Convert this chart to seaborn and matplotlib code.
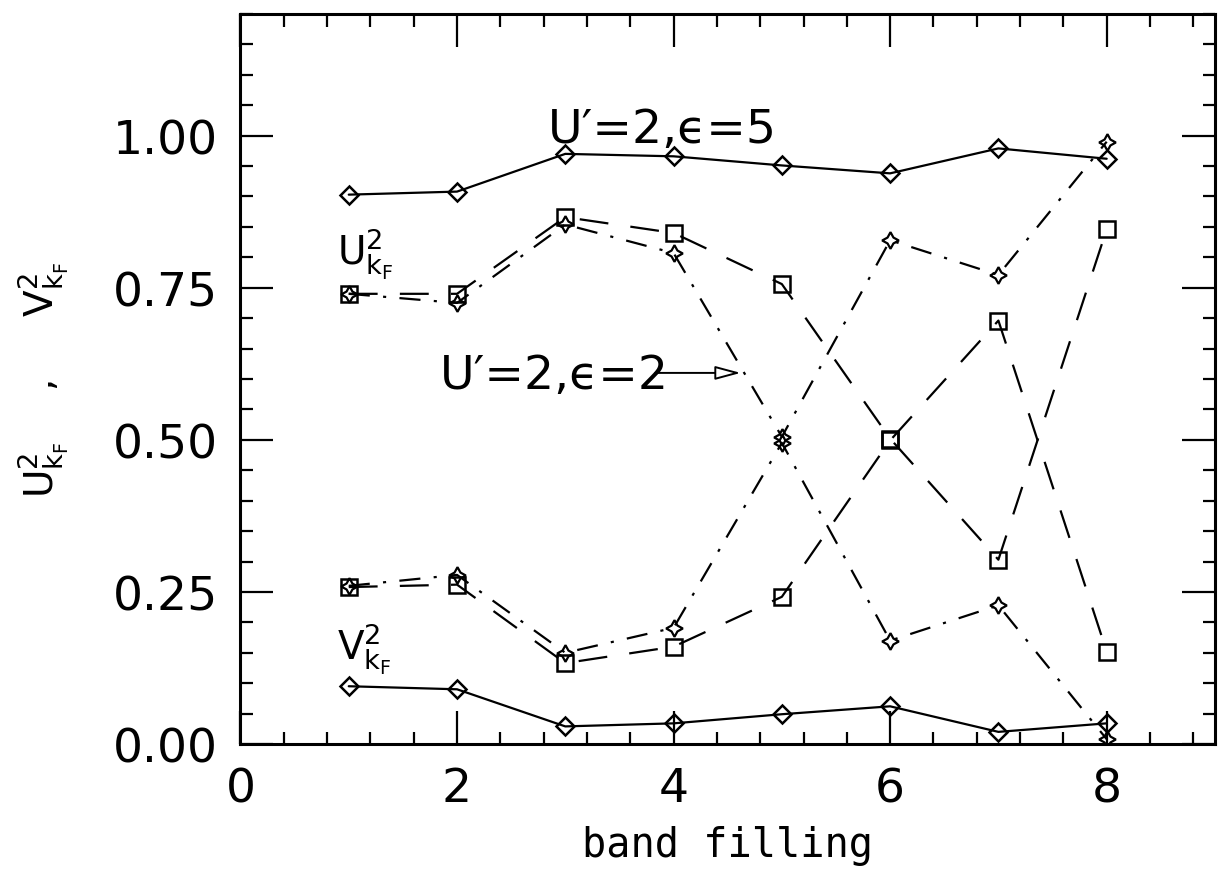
import matplotlib
matplotlib.use("Agg")
import matplotlib.pyplot as plt
import seaborn as sns
from matplotlib.ticker import MultipleLocator

sns.set_theme(style="ticks")
plt.rcParams['font.family'] = ['DejaVu Sans']
plt.rcParams['mathtext.fontset'] = 'dejavusans'
plt.rcParams['text.color'] = 'black'
plt.rcParams['axes.labelcolor'] = 'black'

# band filling on the x axis
filling = [1, 2, 3, 4, 5, 6, 7, 8]

# U'=2, eps=5 (solid, diamonds)
u2_eps5 = [0.903, 0.908, 0.970, 0.966, 0.951, 0.938, 0.979, 0.962]
v2_eps5 = [0.095, 0.090, 0.029, 0.034, 0.049, 0.062, 0.020, 0.034]

# U'=2, eps=2 (dashed, squares)
u2_eps2_sq = [0.740, 0.740, 0.866, 0.840, 0.756, 0.502, 0.303, 0.846]
v2_eps2_sq = [0.258, 0.262, 0.133, 0.160, 0.242, 0.499, 0.696, 0.152]

# U'=2, eps=2 (dash-dot, stars)
u2_eps2_st = [0.740, 0.725, 0.854, 0.807, 0.505, 0.828, 0.771, 0.990]
v2_eps2_st = [0.260, 0.278, 0.150, 0.191, 0.495, 0.170, 0.228, 0.008]

xticks = [0, 2, 4, 6, 8]
yticks = [0.0, 0.25, 0.5, 0.75, 1.0]
ytick_labels = ["0.00", "0.25", "0.50", "0.75", "1.00"]

fig = plt.figure(figsize=(12.25, 8.79), dpi=100)
ax = fig.add_axes([0.1963, 0.1524, 0.7955, 0.8306])

lw = 1.6
solid = dict(color="black", linewidth=lw, marker="D", markersize=9,
             markerfacecolor="none", markeredgecolor="black", markeredgewidth=1.8)
dashed = dict(color="black", linewidth=lw, linestyle=(0, (13, 10)), marker="s",
              markersize=12, markerfacecolor="none", markeredgecolor="black",
              markeredgewidth=1.8)
dashdot = dict(color="black", linewidth=lw, linestyle=(0, (9.5, 6, 1.4, 6)),
               marker=(4, 1, 0), markersize=12, markerfacecolor="none",
               markeredgecolor="black", markeredgewidth=1.6)

sns.lineplot(x=filling, y=u2_eps5, ax=ax, **solid)
sns.lineplot(x=filling, y=v2_eps5, ax=ax, **solid)
sns.lineplot(x=filling, y=u2_eps2_sq, ax=ax, **dashed)
sns.lineplot(x=filling, y=v2_eps2_sq, ax=ax, **dashed)
sns.lineplot(x=filling, y=u2_eps2_st, ax=ax, **dashdot)
sns.lineplot(x=filling, y=v2_eps2_st, ax=ax, **dashdot)

ax.set_xlim(0, 9)
ax.set_ylim(0, 1.2)
ax.set_xticks(xticks)
ax.set_yticks(yticks)
ax.set_yticklabels(ytick_labels)
ax.xaxis.set_minor_locator(MultipleLocator(0.4))
ax.yaxis.set_minor_locator(MultipleLocator(0.05))
ax.tick_params(which="both", direction="in", top=True, right=True,
               labelsize=34, colors="black", width=1.6, pad=16)
ax.tick_params(which="major", length=24)
ax.tick_params(which="minor", length=9)
for s in ax.spines.values():
    s.set_linewidth(2.2)
    s.set_color("black")

ax.set_xlabel("band filling", fontsize=29, labelpad=10, family="DejaVu Sans Mono")
ax.set_ylabel(r"$\mathregular{U^2_{k_F}}$    ,     $\mathregular{V^2_{k_F}}$",
              fontsize=28, labelpad=30)

# annotations
ax.text(2.84, 0.99, "U′=2,ϵ=5", fontsize=34, ha="left", va="baseline")
ax.text(1.84, 0.585, "U′=2,ϵ=2", fontsize=34, ha="left", va="baseline")
ax.annotate("", xy=(4.62, 0.61), xytext=(3.83, 0.61),
            arrowprops=dict(arrowstyle="-|>,head_length=1.3,head_width=0.35",
                            fc="white", ec="black", lw=1.4, shrinkA=0, shrinkB=0))
ax.text(0.89, 0.789, r"$\mathregular{U^2_{k_F}}$", fontsize=28, ha="left", va="baseline")
ax.text(0.89, 0.139, r"$\mathregular{V^2_{k_F}}$", fontsize=28, ha="left", va="baseline")

fig.savefig("out.png", dpi=100)
